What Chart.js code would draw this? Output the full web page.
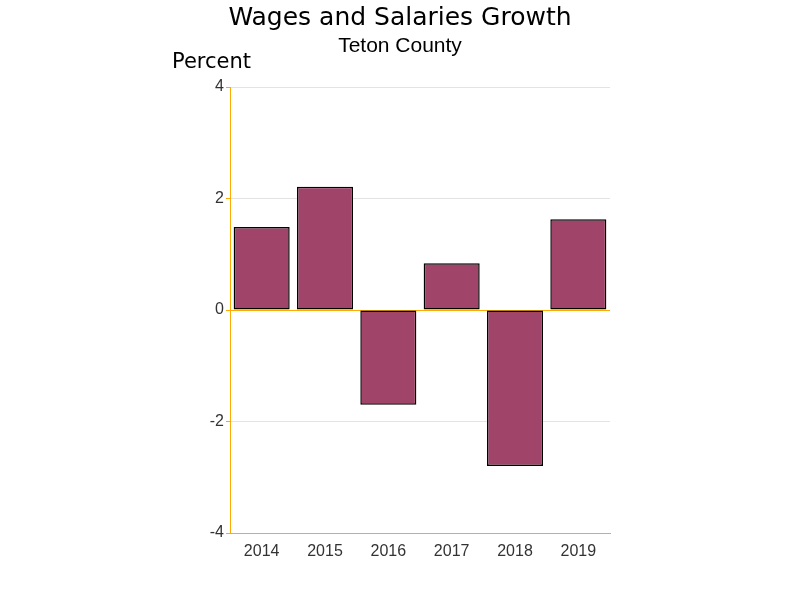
<!DOCTYPE html>
<html>
<head>
<meta charset="utf-8">
<script src="https://cdn.jsdelivr.net/npm/chart.js@4.4.1/dist/chart.umd.min.js"></script>
<style>
html,body{margin:0;padding:0;background:#fff;}
#wrap{width:800px;height:600px;}
</style>
</head>
<body>
<div id="wrap"><canvas id="c" width="800" height="600"></canvas></div>
<script>
const categories = ["2014", "2015", "2016", "2017", "2018", "2019"];
const growthValues = [1.49, 2.21, -1.70, 0.84, -2.80, 1.63];
const yTicks = [-4, -2, 0, 2, 4];

const titleText = "Wages and Salaries Growth";
const subtitleText = "Teton County";
const yAxisLabel = "Percent";

const AXIS_COLOR = "#FFAA00";
const BAR_COLOR = "#A0446A";

const textPlugin = {
  id: "texts",
  afterDraw(chart) {
    const ctx = chart.ctx;
    ctx.save();
    ctx.fillStyle = "#000";
    ctx.textBaseline = "alphabetic";
    ctx.textAlign = "center";
    ctx.font = "25px 'DejaVu Sans'";
    ctx.fillText(titleText, 400, 25);
    ctx.font = "21px 'Liberation Sans'";
    ctx.fillText(subtitleText, 400, 52);
    ctx.textAlign = "left";
    ctx.font = "21px 'DejaVu Sans'";
    ctx.fillText(yAxisLabel, 172, 68);
    ctx.restore();
  }
};

new Chart(document.getElementById("c"), {
  type: "bar",
  data: {
    labels: categories,
    datasets: [{
      data: growthValues,
      backgroundColor: BAR_COLOR,
      borderColor: "#000",
      borderWidth: 1.5,
      borderSkipped: false,
      barPercentage: 0.885,
      categoryPercentage: 1.0
    }]
  },
  options: {
    responsive: false,
    animation: false,
    layout: { padding: { left: 0, top: 87, right: 190, bottom: 27 } },
    plugins: { legend: { display: false }, tooltip: { enabled: false }, title: { display: false } },
    scales: {
      x: {
        grid: { display: false, drawTicks: false },
        border: { display: true, color: AXIS_COLOR, width: 1 },
        ticks: { color: "#333", font: { family: "Liberation Sans", size: 16 }, padding: 9 },
        afterFit(s) { s.height = 40; }
      },
      y: {
        min: -4, max: 4,
        afterBuildTicks(s) { s.ticks = yTicks.map(v => ({ value: v })); },
        grid: {
          color: ctx => (ctx.tick && (ctx.tick.value === 0 || ctx.tick.value === -4)) ? AXIS_COLOR : "#e3e3e3",
          lineWidth: 1,
          tickColor: AXIS_COLOR,
          tickLength: 4,
          drawTicks: true
        },
        border: { display: true, color: AXIS_COLOR, width: 1 },
        ticks: { color: "#333", font: { family: "Liberation Sans", size: 16 }, padding: 2 },
        afterFit(s) { s.width = 230; }
      }
    }
  },
  plugins: [textPlugin]
});
</script>
</body>
</html>
